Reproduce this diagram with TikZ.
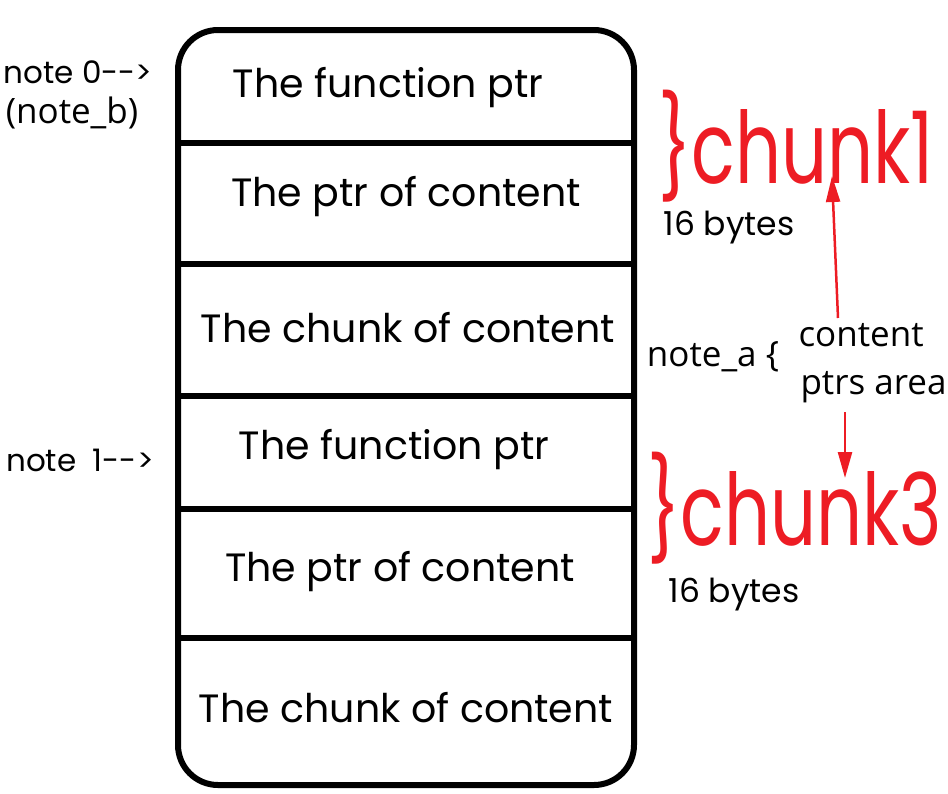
\documentclass[tikz,border=0pt]{standalone}
\usepackage{fontspec}
\setmainfont{Poppins}[Ligatures=NoCommon]
\newfontfamily\plainfont{Open Sans}
\usetikzlibrary{arrows.meta}
\definecolor{chunkred}{RGB}{237,28,36}
\begin{document}
\begin{tikzpicture}[x=1pt,y=-1pt,
    cell/.style={font=\fontsize{39.5}{42}\selectfont},
    side/.style={font=\fontsize{31}{33}\selectfont},
    plain/.style={font=\plainfont\fontsize{35}{37}\selectfont},
    bytes/.style={font=\fontsize{33}{35}\selectfont,inner sep=0pt},
    chunklbl/.style={text=chunkred,font=\fontsize{100}{104}\selectfont,xscale=0.72,
        inner sep=0pt,text depth=0pt,anchor=base},
    redarrow/.style={draw=chunkred,line width=2.5pt,-{Triangle[width=14pt,length=26pt]}}]
    \useasboundingbox (0,0) rectangle (948,793);
    % the memory block
    \node[draw,line width=6pt,rounded corners=40pt,minimum width=456pt,minimum height=755pt,inner sep=0pt] (mem) at (406,407.5) {};
    \foreach \yy in {143,264,396,509,638}
        \draw[line width=6pt] (175,\yy) -- (634,\yy);

    \node[cell] (fa) at (388,88) {The function ptr};
    \node[cell] (pa) at (406,197) {The ptr of content};
    \node[cell] (ca) at (408,328) {The chunk of content};
    \node[cell] (fb) at (394,450) {The function ptr};
    \node[cell] (pb) at (400,572) {The ptr of content};
    \node[cell] (cb) at (406,708) {The chunk of content};

    % left labels
    \node[side] (n0) at (78,72) {note 0{-}{-}>};
    \node[plain] (nb) at (72,113) {(note\_b)};
    \node[side] (n1) at (80,460) {note\ \ 1{-}{-}>};

    % right labels
    \node[chunklbl] (ch1) at (796,183) {\}chunk1};
    \node[bytes] (b1) at (729,228) {16 bytes};
    \node[plain] (na) at (713,357) {note\_a \{};
    \node[plain,anchor=west] (cont) at (795,335) {content};
    \node[plain,anchor=west] (ptrs) at (797,387) {ptrs area};
    \node[chunklbl] (ch3) at (795,545) {\}chunk3};
    \node[bytes] (b3) at (734,595) {16 bytes};

    \coordinate (up) at (832,176);
    \coordinate (dn) at (845,478);
    \draw[redarrow] (838,318) -- (up);
    \draw[redarrow] (845,412) -- (dn);
\end{tikzpicture}
\end{document}
